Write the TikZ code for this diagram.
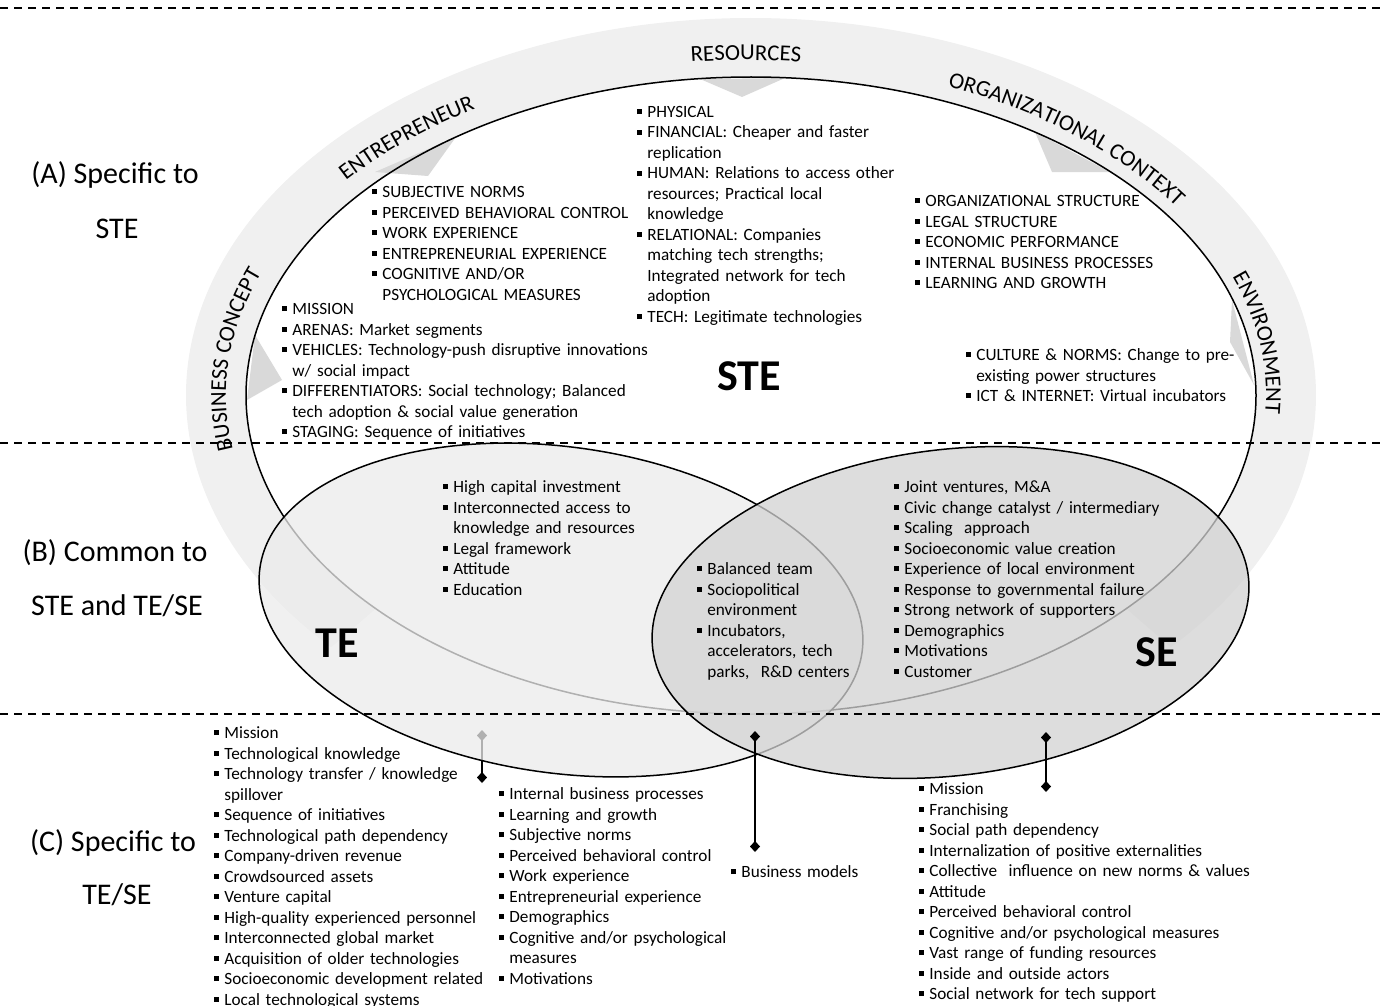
\documentclass[tikz,border=0pt]{standalone}
\usepackage{fontspec}
\setmainfont{Carlito}
\usetikzlibrary{arrows.meta,calc,decorations.text,positioning}

\newcommand\lstfont{\fontsize{8.6}{10.25}\selectfont}
\newcommand\secfont{\fontsize{15}{18}\selectfont}
\newcommand\bandfont{\fontsize{11.4}{13}\selectfont}
\newcommand\bigfont{\fontsize{22}{26}\selectfont\bfseries}
\newcommand\bul[1]{\par\noindent\hangindent=5pt\hangafter=1\makebox[5pt][l]{\rule[0.2em]{2.4pt}{2.4pt}}#1\par}

\tikzset{band/.style={fill=gray!12},
    tab/.style={fill=gray!30},
    ring/.style={draw,line width=0.75pt},
    sep/.style={dash pattern=on 4pt off 3pt,line width=0.6pt},
    link/.style={line width=0.7pt,{Diamond[length=5.5pt,width=5pt]}-{Diamond[length=5.5pt,width=5pt]}},
    lst/.style={anchor=base west,inner sep=0pt,font=\lstfont,text width=#1,align=left},
    seclabel/.style={anchor=base,inner sep=0pt,font=\secfont},
    bandtext/.style={decorate,decoration={text along path,text={|\bandfont|#1},text align=center}},
    biglabel/.style={inner sep=0pt,font=\bigfont}
}

\begin{document}
\begin{tikzpicture}[x=0.5pt,y=-0.5pt]

\useasboundingbox (0,0) rectangle (1381,1006);

\coordinate (ste c) at (751,395.5);
\coordinate (band c) at (751,395);
\coordinate (txt c) at (746,395);
\coordinate (te c) at (561,610);
\coordinate (se c) at (950.5,612.5);

% the ring round STE
\fill[band] ($(band c)+(138:565 and 377)$) arc[start angle=138,end angle=402,x radius=565,y radius=377]
    -- ($(ste c)+(42:505 and 318.5)$) arc[start angle=402,end angle=138,x radius=505,y radius=318.5] -- cycle;

\fill[tab] (375,172) -- (428,176) -- (456,137) -- cycle;
\fill[tab] (700,79) -- (742,97) -- (785,78) -- cycle;
\fill[tab] (1035,132) -- (1052,172) -- (1110,172) -- cycle;
\fill[tab] (255,335) -- (282,380) -- (247,400) -- cycle;
\fill[tab] (1232,300) -- (1230,342) -- (1254,385) -- cycle;

\path[bandtext=RESOURCES] ($(txt c)+(250:520 and 335)$) arc[start angle=250,end angle=290,x radius=520,y radius=335];
\path[bandtext=ENTREPRENEUR] ($(txt c)+(203:520 and 335)$) arc[start angle=203,end angle=252,x radius=520,y radius=335];
\path[bandtext=ORGANIZATIONAL CONTEXT] ($(txt c)+(276:520 and 335)$) arc[start angle=276,end angle=349,x radius=520,y radius=335];
\path[bandtext=BUSINESS CONCEPT] ($(txt c)+(158:520 and 335)$) arc[start angle=158,end angle=213,x radius=520,y radius=335];
\path[bandtext=ENVIRONMENT] ($(txt c)+(325:520 and 335)$) arc[start angle=325,end angle=379,x radius=520,y radius=335];

\draw[ring] (ste c) ellipse [x radius=505,y radius=318.5];

% connectors to the lists below
\coordinate (te top) at (482,730);
\coordinate (te bot) at (482,783);
\coordinate (mid top) at (755,731);
\coordinate (mid bot) at (755,852);
\coordinate (se top) at (1046,732);
\coordinate (se bot) at (1046,792);

\draw[link] (te top) -- (te bot);

\filldraw[ring,fill=gray!16,fill opacity=0.75,rotate around={-8:(te c)}] (te c) ellipse [x radius=304,y radius=163];
\filldraw[ring,fill=gray!35,fill opacity=0.75,rotate around={7:(se c)}] (se c) ellipse [x radius=300,y radius=163];

\draw[link] (mid top) -- (mid bot);
\draw[link] (se top) -- (se bot);

\draw[sep] (0,8) -- (1381,8);
\draw[sep] (0,443) -- (1381,443);
\draw[sep] (0,714) -- (1381,714);

\node (sec A) [seclabel] at (115,184) {(A) Specific to};
\node (sec A2) [seclabel] at (117,238) {STE};
\node (sec B) [seclabel] at (115,561) {(B) Common to};
\node (sec B2) [seclabel] at (117,615) {STE and TE/SE};
\node (sec C) [seclabel] at (113,851) {(C) Specific to};
\node (sec C2) [seclabel] at (117,904) {TE/SE};

\node (ste lab) [biglabel] at (749,376) {STE};
\node (te lab) [biglabel] at (337,643) {TE};
\node (se lab) [biglabel] at (1157,652) {SE};

\node (ent list) [lst=150pt] at (372,177) {\bul{SUBJECTIVE NORMS}\bul{PERCEIVED BEHAVIORAL CONTROL}\bul{WORK EXPERIENCE}\bul{ENTREPRENEURIAL EXPERIENCE}\bul{COGNITIVE AND/OR\newline PSYCHOLOGICAL MEASURES}};

\node (res list) [lst=140pt] at (637,97) {\bul{PHYSICAL}\bul{FINANCIAL: Cheaper and faster\newline replication}\bul{HUMAN: Relations to access other\newline resources; Practical local\newline knowledge}\bul{RELATIONAL: Companies\newline matching tech strengths;\newline Integrated network for tech\newline adoption}\bul{TECH: Legitimate technologies}};

\node (org list) [lst=150pt] at (915,186) {\bul{ORGANIZATIONAL STRUCTURE}\bul{LEGAL STRUCTURE}\bul{ECONOMIC PERFORMANCE}\bul{INTERNAL BUSINESS PROCESSES}\bul{LEARNING AND GROWTH}};

\node (bus list) [lst=200pt] at (282,294) {\bul{MISSION}\bul{ARENAS: Market segments}\bul{VEHICLES: Technology-push disruptive innovations\newline w/ social impact}\bul{DIFFERENTIATORS: Social technology; Balanced\newline tech adoption \& social value generation}\bul{STAGING: Sequence of initiatives}};

\node (env list) [lst=160pt] at (966,340) {\bul{CULTURE \& NORMS: Change to pre-\newline existing power structures}\bul{ICT \& INTERNET: Virtual incubators}};

\node (te list) [lst=130pt] at (443,472) {\bul{High capital investment}\bul{Interconnected access to\newline knowledge and resources}\bul{Legal framework}\bul{Attitude}\bul{Education}};

\node (both list) [lst=100pt] at (697,554) {\bul{Balanced team}\bul{Sociopolitical\newline environment}\bul{Incubators,\newline accelerators, tech\newline parks,\ \ R\&D centers}};

\node (se list) [lst=160pt] at (894,472) {\bul{Joint ventures, M\&A}\bul{Civic change catalyst / intermediary}\bul{Scaling\ \ approach}\bul{Socioeconomic value creation}\bul{Experience of local environment}\bul{Response to governmental failure}\bul{Strong network of supporters}\bul{Demographics}\bul{Motivations}\bul{Customer}};

\node (te only) [lst=150pt] at (214,718) {\bul{Mission}\bul{Technological knowledge}\bul{Technology transfer / knowledge\newline spillover}\bul{Sequence of initiatives}\bul{Technological path dependency}\bul{Company-driven revenue}\bul{Crowdsourced assets}\bul{Venture capital}\bul{High-quality experienced personnel}\bul{Interconnected global market}\bul{Acquisition of older technologies}\bul{Socioeconomic development related}\bul{Local technological systems}};

\node (te se) [lst=140pt] at (499,779) {\bul{Internal business processes}\bul{Learning and growth}\bul{Subjective norms}\bul{Perceived behavioral control}\bul{Work experience}\bul{Entrepreneurial experience}\bul{Demographics}\bul{Cognitive and/or psychological\newline measures}\bul{Motivations}};

\node (bm) [lst=80pt] at (731,857) {\bul{Business models}};

\node (se only) [lst=180pt] at (919,774) {\bul{Mission}\bul{Franchising}\bul{Social path dependency}\bul{Internalization of positive externalities}\bul{Collective\ \ influence on new norms \& values}\bul{Attitude}\bul{Perceived behavioral control}\bul{Cognitive and/or psychological measures}\bul{Vast range of funding resources}\bul{Inside and outside actors}\bul{Social network for tech support}};

\end{tikzpicture}
\end{document}
